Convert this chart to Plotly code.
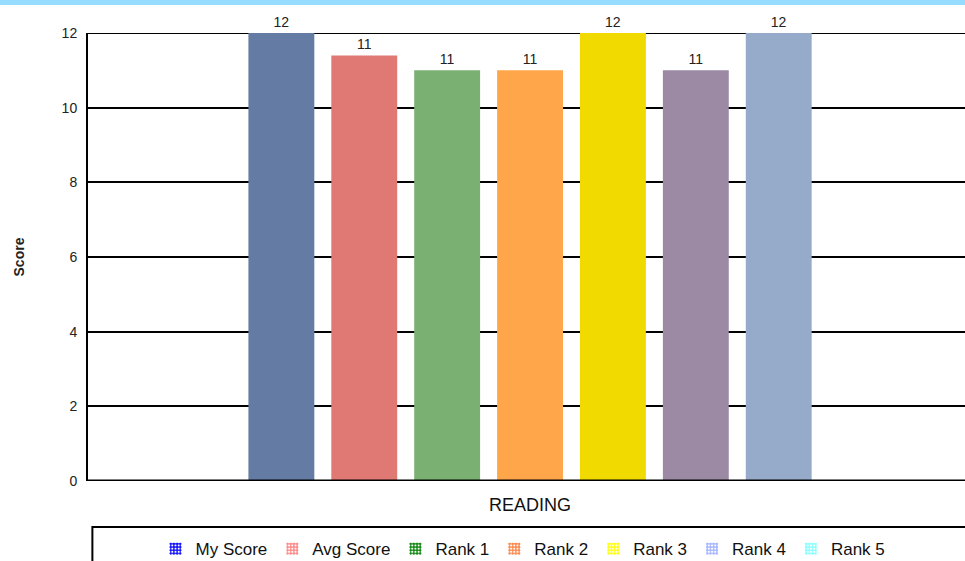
import plotly.graph_objects as go

categories = ["READING"]
series_names = ["My Score", "Avg Score", "Rank 1", "Rank 2", "Rank 3", "Rank 4", "Rank 5"]
series_values = [12, 11.4, 11, 11, 12, 11, 12]
bar_colors = ["#647CA3", "#E07874", "#7BB073", "#FFA64A", "#F0DA00", "#9C8AA4", "#96ABC9"]
legend_colors = ["#0000FF", "#FF8080", "#008000", "#FF7F3F", "#FFFF00", "#A0B0FF", "#80FFFF"]
y_ticks = [0, 2, 4, 6, 8, 10, 12]

fig = go.Figure()

# actual bars (no legend - the legend uses its own colours)
for name, val, col in zip(series_names, series_values, bar_colors):
    fig.add_trace(go.Bar(
        x=categories, y=[val], name=name,
        marker=dict(color=col, line=dict(width=0)),
        text=[val], texttemplate="%{y:.0f}", textposition="outside",
        textfont=dict(family="Arial", size=14, color="#222222"),
        cliponaxis=False, showlegend=False, hoverinfo="skip",
    ))

# legend entries with hatched swatches, on a hidden axis so they don't take a group slot
for name, col in zip(series_names, legend_colors):
    fig.add_trace(go.Bar(
        x=[None], y=[None], name=name, xaxis="x2", yaxis="y2",
        marker=dict(color="white", line=dict(width=0),
                    pattern=dict(shape="+", fgcolor=col, bgcolor="white", size=4,
                                 solidity=0.6, fgopacity=1)),
    ))

fig.update_layout(
    width=965, height=561,
    margin=dict(l=88, r=0, t=33, b=80, autoexpand=False),
    paper_bgcolor="white", plot_bgcolor="white",
    barmode="group", bargap=0.345, bargroupgap=0.205,
    font=dict(family="Arial", color="#222222"),
    xaxis=dict(
        range=[-0.499, 0.491], showgrid=False, zeroline=False, automargin=False,
        showline=False, tickfont=dict(family="Arial", size=18, color="#111111"),
        ticklabelstandoff=11,
    ),
    yaxis=dict(
        range=[0, 12], tickvals=y_ticks, showgrid=True, gridcolor="black", gridwidth=2,
        zeroline=False, showline=True, linecolor="black", linewidth=2, automargin=False,
        tickfont=dict(family="Arial", size=14, color="#222222"), ticklabelstandoff=6,
        title=dict(text="<b>Score</b>", font=dict(family="Arial", size=14, color="#222222"), standoff=34),
    ),
    xaxis2=dict(overlaying="x", visible=False, range=[0, 1]),
    yaxis2=dict(overlaying="y", visible=False, range=[0, 1]),
    legend=dict(
        orientation="h", x=0.496, xanchor="center", y=-0.152, yanchor="middle",
        font=dict(family="Arial", size=17, color="#111111"),
        bgcolor="rgba(0,0,0,0)", borderwidth=0, itemwidth=30,
    ),
    shapes=[
        # bottom axis line and top gridline
        dict(type="line", xref="paper", yref="y", x0=0, x1=1, y0=0, y1=0,
             line=dict(color="black", width=3)),
        dict(type="line", xref="paper", yref="y", x0=0, x1=1, y0=12, y1=12,
             line=dict(color="black", width=2), layer="below"),
        # legend frame
        dict(type="rect", xref="paper", yref="paper", x0=0.005, x1=1.05, y0=-0.25, y1=-0.1027,
             line=dict(color="black", width=2), fillcolor="rgba(0,0,0,0)"),
        # light blue top band
        dict(type="rect", xref="paper", yref="paper", x0=-0.2, x1=1.1, y0=1.0625, y1=1.08,
             line=dict(width=0), fillcolor="#96DCFE"),
    ],
)

# drop the default page margin so the figure sits flush with the window
fig.write_html("out.html", config={"displayModeBar": False},
               post_script="document.body.style.margin='0';")
